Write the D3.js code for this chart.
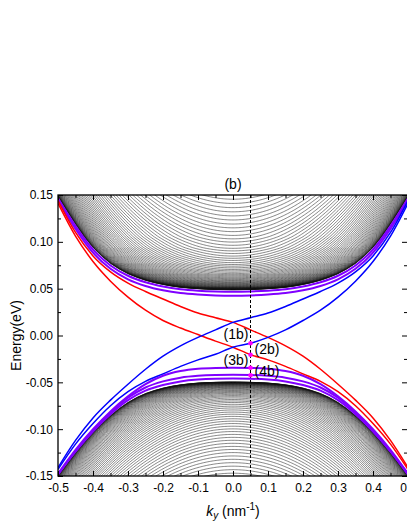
<!DOCTYPE html>
<html lang="en">
<head>
<meta charset="utf-8">
<script src="https://cdn.jsdelivr.net/npm/d3@7"></script>
<style>
body { margin: 0; background: #fff; }
svg { display: block; font-family: Arial, "Liberation Sans", sans-serif; }
</style>
</head>
<body>
<svg id="chart" width="407" height="527"></svg>
<script>
// ---- data ----
var kGrid = [-0.5,-0.45,-0.4,-0.35,-0.3,-0.25,-0.2,-0.15,-0.1,-0.05,0,0.05,0.1,0.15,0.2,0.25,0.3,0.35,0.4,0.45,0.5];

// bulk band edge (lowest conduction / highest valence subband) vs |k|
var edgeK = [0,0.025,0.05,0.075,0.1,0.125,0.15,0.175,0.2,0.225,0.25,0.275,0.3,0.325,0.35,0.375,0.4,0.425,0.45,0.475,0.5,0.525,0.55,0.6,0.65,0.7,0.75];
var condEdgeE = [0.0489,0.04895,0.04915,0.0495,0.05,0.0507,0.0515,0.0528,0.0545,0.0565,0.059,0.0622,0.066,0.071,0.077,0.0848,0.094,0.1055,0.119,0.1335,0.1485,0.164,0.18,0.214,0.25,0.288,0.327];
var valEdgeE = [-0.0498,-0.04985,-0.05,-0.0503,-0.0508,-0.0516,-0.0527,-0.0542,-0.0562,-0.0588,-0.062,-0.0662,-0.0715,-0.078,-0.0855,-0.094,-0.1035,-0.114,-0.125,-0.137,-0.1495,-0.1625,-0.176,-0.204,-0.234,-0.265,-0.297];

// subband energies at ky = 0
var condBandE0 = [0.04892,0.04893,0.04895,0.04899,0.04905,0.04911,0.04919,0.04929,0.0494,0.0495,
  0.04965,0.0498,0.04995,0.05014,0.05035,0.05056,0.05078,0.05102,0.05126,0.0515,
  0.05189,0.05228,0.05267,0.05314,0.05365,0.05416,0.0547,0.0553,0.0559,0.0565,
  0.05725,0.058,0.05875,0.05964,0.0606,0.06156,0.06258,0.06372,0.06486,0.066,
  0.0675,0.069,0.0705,0.0722,0.074,0.0758,0.07778,0.08012,0.08246,0.0848,
  0.08756,0.09032,0.09308,0.0963,0.09975,0.1032,0.10685,0.1109,0.11495,0.119,
  0.12335,0.1277,0.13205,0.1365,0.141,0.1455];
var valBandE0 = [-0.04982,-0.04983,-0.04985,-0.04988,-0.04993,-0.04997,-0.05003,-0.05012,-0.05021,-0.0503,
  -0.05045,-0.0506,-0.05075,-0.05096,-0.0512,-0.05144,-0.05171,-0.05204,-0.05237,-0.0527,
  -0.05315,-0.0536,-0.05405,-0.0546,-0.0552,-0.0558,-0.05646,-0.05724,-0.05802,-0.0588,
  -0.05976,-0.06072,-0.06168,-0.06284,-0.0641,-0.06536,-0.06673,-0.06832,-0.06991,-0.0715,
  -0.07345,-0.0754,-0.07735,-0.0795,-0.08175,-0.084,-0.08635,-0.0889,-0.09145,-0.094,
  -0.09685,-0.0997,-0.10255,-0.1056,-0.10875,-0.1119,-0.1151,-0.1184,-0.1217,-0.125,
  -0.1286,-0.1322,-0.1358,-0.1395,-0.14325,-0.147];

// highlighted (purple) bands
var condPurple1 = [0.1465,0.1168,0.0918,0.0748,0.0638,0.0568,0.0523,0.0494,0.0479,0.0471,0.0468,0.0471,0.0479,0.0494,0.0523,0.0568,0.0638,0.0748,0.0918,0.1168,0.1465];
var condPurple2 = [0.1445,0.1138,0.0884,0.0712,0.06,0.0529,0.0483,0.0453,0.0437,0.0428,0.0425,0.0428,0.0437,0.0453,0.0483,0.0529,0.06,0.0712,0.0884,0.1138,0.1445];
var valPurple1 = [-0.1475,-0.122,-0.1,-0.081,-0.065,-0.052,-0.043,-0.038,-0.0355,-0.0346,-0.0344,-0.0346,-0.0355,-0.038,-0.043,-0.052,-0.065,-0.081,-0.1,-0.122,-0.1475];
var valPurple2 = [-0.148,-0.1235,-0.1015,-0.0825,-0.0665,-0.0555,-0.049,-0.045,-0.043,-0.0422,-0.042,-0.0422,-0.043,-0.045,-0.049,-0.0555,-0.0665,-0.0825,-0.1015,-0.1235,-0.148];
var valPurple3 = [-0.1485,-0.124,-0.1025,-0.084,-0.069,-0.0588,-0.0528,-0.049,-0.047,-0.0462,-0.046,-0.0462,-0.047,-0.049,-0.0528,-0.0588,-0.069,-0.084,-0.1025,-0.124,-0.1485];

// edge states
var red1 = [0.144,0.11,0.085,0.068,0.056,0.047,0.039,0.031,0.024,0.019,0.014,0.006,-0.002,-0.011,-0.022,-0.036,-0.052,-0.069,-0.088,-0.112,-0.141];
var red2 = [0.141,0.106,0.079,0.058,0.041,0.027,0.016,0.008,0.001,-0.006,-0.0125,-0.0205,-0.026,-0.033,-0.041,-0.049,-0.06,-0.075,-0.094,-0.116,-0.143];
var blue1 = [-0.141,-0.112,-0.088,-0.069,-0.052,-0.036,-0.022,-0.011,-0.002,0.006,0.014,0.019,0.024,0.031,0.039,0.047,0.056,0.068,0.085,0.11,0.144];
var blue2 = [-0.143,-0.116,-0.094,-0.075,-0.06,-0.049,-0.041,-0.033,-0.026,-0.02,-0.0125,-0.0083,-0.002,0.006,0.016,0.027,0.041,0.058,0.079,0.106,0.141];

// marked states at ky = 0.05
var markK = 0.05;
var markE = [-0.0083,-0.0205,-0.0344,-0.0425];
var markLabels = ["(1b)","(2b)","(3b)","(4b)"];

var xTicks = [-0.5,-0.4,-0.3,-0.2,-0.1,0,0.1,0.2,0.3,0.4,0.5];
var xMinor = [-0.45,-0.35,-0.25,-0.15,-0.05,0.05,0.15,0.25,0.35,0.45];
var yTicks = [-0.15,-0.1,-0.05,0,0.05,0.1,0.15];
var yMinor = [-0.125,-0.075,-0.025,0.025,0.075,0.125];

// ---- layout ----
var pL = 58, pR = 408, pT = 195, pB = 476;
var svg = d3.select("#chart");

var x = d3.scaleLinear().domain([-0.5, 0.5]).range([pL, pR]);
var y = d3.scaleLinear().domain([-0.15, 0.15]).range([pB, pT]);

svg.append("defs").append("clipPath").attr("id", "plot")
  .append("rect").attr("x", pL).attr("y", pT)
  .attr("width", pR - pL).attr("height", pB - pT);

var plot = svg.append("g").attr("clip-path", "url(#plot)");

var line = d3.line().x(function(d) { return x(d[0]); }).y(function(d) { return y(d[1]); });
var smooth = d3.line().curve(d3.curveMonotoneX)
  .x(function(d) { return x(d[0]); }).y(function(d) { return y(d[1]); });

// subband curves: each band follows the edge dispersion at sqrt(k^2 + q^2)
var kSamples = d3.range(-0.5, 0.5001, 0.004);
function subbands(edgeE, bandE0) {
  var toQ = d3.scaleLinear().domain(edgeE).range(edgeK);
  var toE = d3.scaleLinear().domain(edgeK).range(edgeE);
  return bandE0.map(function(e0) {
    var q = toQ(e0);
    return kSamples.map(function(k) { return [k, toE(Math.sqrt(k * k + q * q))]; });
  });
}

var bands = subbands(condEdgeE, condBandE0).concat(subbands(valEdgeE, valBandE0));
plot.append("g").selectAll("path").data(bands).join("path")
  .attr("d", line).attr("fill", "none").attr("stroke", "#111").attr("stroke-width", 0.5);

function series(vals) { return kGrid.map(function(k, i) { return [k, vals[i]]; }); }

plot.append("g").selectAll("path")
  .data([condPurple1, condPurple2, valPurple1, valPurple2, valPurple3].map(series)).join("path")
  .attr("d", smooth).attr("fill", "none").attr("stroke", "#8000ff").attr("stroke-width", 2);

plot.append("g").selectAll("path").data([red1, red2].map(series)).join("path")
  .attr("d", smooth).attr("fill", "none").attr("stroke", "#ff0000").attr("stroke-width", 1.5);

plot.append("g").selectAll("path").data([blue1, blue2].map(series)).join("path")
  .attr("d", smooth).attr("fill", "none").attr("stroke", "#0000ff").attr("stroke-width", 1.5);

// dashed cut at ky = 0.05
plot.append("line")
  .attr("x1", x(markK)).attr("x2", x(markK)).attr("y1", pT).attr("y2", pB)
  .attr("stroke", "#000").attr("stroke-width", 1).attr("stroke-dasharray", "3,2");

svg.append("g").selectAll("circle").data(markE).join("circle")
  .attr("cx", x(markK)).attr("cy", function(d) { return y(d); }).attr("r", 2.3)
  .attr("fill", "#ff00ff");

svg.append("g").selectAll("text").data(markLabels).join("text")
  .attr("x", function(d, i) { return i % 2 === 0 ? x(markK) - 2 : x(markK) + 4; })
  .attr("y", function(d, i) { return y(markE[i]) + [-4, -1, -3, 1][i]; })
  .attr("text-anchor", function(d, i) { return i % 2 === 0 ? "end" : "start"; })
  .attr("font-size", 14).text(function(d) { return d; });

// ---- axes ----
var fmtX = function(d) { return d.toFixed(1); };
var fmtY = function(d) { return d.toFixed(2); };

function styleAxis(g) {
  g.select(".domain").remove();
  g.selectAll("line").attr("stroke", "#000").attr("stroke-width", 1);
  g.selectAll("text").attr("font-size", 12).attr("fill", "#000").attr("font-family", "Arial, 'Liberation Sans', sans-serif");
}

svg.append("g").attr("transform", "translate(0," + pB + ")")
  .call(d3.axisBottom(x).tickValues(xTicks).tickFormat(fmtX).tickSizeInner(-5).tickSizeOuter(0).tickPadding(7))
  .call(styleAxis);
svg.append("g").attr("transform", "translate(0," + pB + ")")
  .call(d3.axisBottom(x).tickValues(xMinor).tickFormat("").tickSizeInner(-3).tickSizeOuter(0))
  .call(styleAxis);
svg.append("g").attr("transform", "translate(0," + pT + ")")
  .call(d3.axisTop(x).tickValues(xTicks).tickFormat("").tickSizeInner(-5).tickSizeOuter(0))
  .call(styleAxis);
svg.append("g").attr("transform", "translate(0," + pT + ")")
  .call(d3.axisTop(x).tickValues(xMinor).tickFormat("").tickSizeInner(-3).tickSizeOuter(0))
  .call(styleAxis);

svg.append("g").attr("transform", "translate(" + pL + ",0)")
  .call(d3.axisLeft(y).tickValues(yTicks).tickFormat(fmtY).tickSizeInner(-5).tickSizeOuter(0).tickPadding(5))
  .call(styleAxis);
svg.append("g").attr("transform", "translate(" + pL + ",0)")
  .call(d3.axisLeft(y).tickValues(yMinor).tickFormat("").tickSizeInner(-3).tickSizeOuter(0))
  .call(styleAxis);
svg.append("g").attr("transform", "translate(" + (pR - 1) + ",0)")
  .call(d3.axisRight(y).tickValues(yTicks).tickFormat("").tickSizeInner(-5).tickSizeOuter(0))
  .call(styleAxis);
svg.append("g").attr("transform", "translate(" + (pR - 1) + ",0)")
  .call(d3.axisRight(y).tickValues(yMinor).tickFormat("").tickSizeInner(-3).tickSizeOuter(0))
  .call(styleAxis);

svg.append("rect").attr("x", pL).attr("y", pT)
  .attr("width", pR - pL).attr("height", pB - pT)
  .attr("fill", "none").attr("stroke", "#000").attr("stroke-width", 1.3);

// ---- labels ----
svg.append("text").attr("x", x(0)).attr("y", 189).attr("text-anchor", "middle")
  .attr("font-size", 14).text("(b)");

svg.append("text").attr("transform", "translate(21," + y(0) + ") rotate(-90)")
  .attr("text-anchor", "middle").attr("font-size", 14).text("Energy(eV)");

var xl = svg.append("text").attr("x", x(0)).attr("y", 516).attr("text-anchor", "middle").attr("font-size", 14);
xl.append("tspan").attr("font-style", "italic").text("k");
xl.append("tspan").attr("font-style", "italic").attr("font-size", 10).attr("dy", 3).text("y");
xl.append("tspan").attr("dy", -3).text(" (nm");
xl.append("tspan").attr("font-size", 10).attr("dy", -6).text("-1");
xl.append("tspan").attr("dy", 6).text(")");
</script>
</body>
</html>
